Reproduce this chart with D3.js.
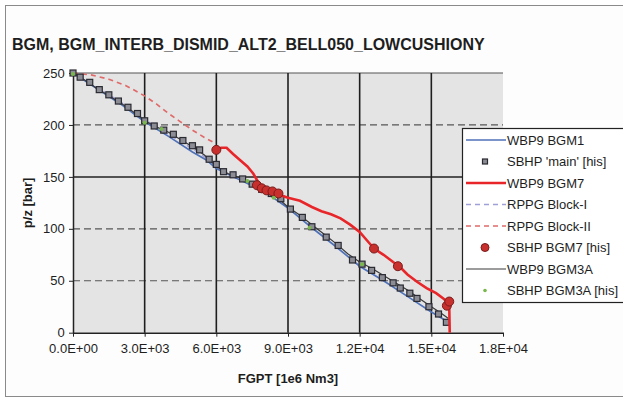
<!DOCTYPE html>
<html>
<head>
<meta charset="utf-8">
<script src="https://cdn.jsdelivr.net/npm/d3@7"></script>
<style>
  body { margin: 0; background: #fff; }
  svg { display: block; font-family: Arial, "Liberation Sans", sans-serif; }
</style>
</head>
<body>
<div id="chart"></div>
<script>
const WIDTH = 623;
const HEIGHT = 398;

const title = 'BGM, BGM_INTERB_DISMID_ALT2_BELL050_LOWCUSHIONY';
const xTitle = 'FGPT [1e6 Nm3]';
const yTitle = 'p/z [bar]';
const xTicks = [0, 3000, 6000, 9000, 12000, 15000, 18000];
const yTicks = [0, 50, 100, 150, 200, 250];

// [FGPT, p/z]
const wbp9Bgm1 = [[0,250],[1000,235],[2000,220],[3000,203],[4000,189],[5000,174],[5600,166],[6000,158],[7000,147],[8000,136],[9000,120],[10000,101],[11000,83],[12000,64],[13000,50],[14000,35],[15000,20],[15650,11]];
const wbp9Bgm3a = [[0,250],[500,243],[1000,235],[1500,228],[2000,221],[2500,213],[3000,204],[3500,198],[4000,193],[4500,186],[5000,179],[5500,171],[6000,160],[6500,153],[7000,149],[7500,143],[8000,137],[8500,131],[9000,121],[9500,113],[10000,104],[10500,95],[11000,86],[11500,76],[12000,68],[12500,62],[13000,55],[13500,48],[14000,41],[14500,33],[15000,25],[15400,19],[15700,14]];
const wbp9Bgm7 = [[6000,176],[6200,178],[6430,178],[6700,172],[7000,166],[7300,160],[7550,153],[7800,143],[8000,139],[8300,136],[8600,133],[9000,130],[9500,127],[10000,121],[10400,117],[10800,114],[11200,110],[11600,104],[12000,97],[12300,89],[12600,81],[13000,75],[13400,68],[13700,63],[14000,56],[14400,49],[14800,43],[15200,38],[15500,33],[15700,29],[15750,25],[15770,0]];
const rppgBlock1 = [[0,250],[1000,236],[2000,222],[3000,205],[4000,191],[5000,177],[6000,162]];
const rppgBlock2 = [[0,250],[800,248],[1500,244],[2200,238],[3000,228],[3500,220],[4000,211],[4500,203],[5000,195],[5500,188],[5900,183]];
const sbhpMain = [[0,250],[300,246],[700,241],[1100,234],[1500,229],[1900,223],[2300,217],[2700,211],[3000,204],[3400,199],[3800,195],[4200,191],[4600,185],[5000,180],[5300,176],[5700,167],[6000,162],[6300,155],[6700,152],[7100,148],[7500,143],[7900,138],[8300,134],[8700,129],[9100,119],[9600,111],[10000,102],[10600,92],[11100,84],[11700,70],[12100,66],[12500,60],[12950,53],[13400,48],[13700,43],[14100,38],[14400,33],[14900,25],[15300,18],[15630,10]];
const sbhpBgm7 = [[6000,176],[7700,142],[7900,139],[8100,137],[8350,136],[8600,134],[12600,81],[13600,64],[15650,26],[15750,30]];
const sbhpBgm3a = [[0,249],[3000,202],[3700,196],[7300,146],[8400,130],[9900,101],[12100,66]];

const svg = d3.select('#chart')
  .append('svg')
    .attr('width', WIDTH)
    .attr('height', HEIGHT);

// outer chart border
svg.append('rect')
  .attr('x', 5.5).attr('y', 5.5)
  .attr('width', 700).attr('height', 391)
  .attr('fill', '#fdfdfd')
  .attr('stroke', '#8a8a8a');

svg.append('text')
  .attr('x', 12).attr('y', 50)
  .attr('font-size', 16).attr('font-weight', 'bold')
  .attr('fill', '#1e1e1e')
  .text(title);

const x = d3.scaleLinear().domain([0, 18000]).range([73, 503]);
const y = d3.scaleLinear().domain([0, 250]).range([332.7, 73]);

// plot area
svg.append('rect')
  .attr('x', x(0)).attr('y', y(250))
  .attr('width', x(18000) - x(0)).attr('height', y(0) - y(250))
  .attr('fill', '#e4e4e4');

// horizontal grid
svg.append('g')
  .selectAll('line')
  .data(yTicks.filter(d => d > 0))
  .enter()
    .append('line')
    .attr('x1', x(0)).attr('x2', x(18000))
    .attr('y1', d => y(d)).attr('y2', d => y(d))
    .attr('stroke', d => d === 150 ? '#222' : '#555')
    .attr('stroke-width', d => d === 150 ? 1.5 : 1.2)
    .attr('stroke-dasharray', d => (d === 150 || d === 250) ? null : '7,4');

// vertical grid
svg.append('g')
  .selectAll('line')
  .data(xTicks.filter(d => d > 0 && d < 18000))
  .enter()
    .append('line')
    .attr('x1', d => x(d)).attr('x2', d => x(d))
    .attr('y1', y(250)).attr('y2', y(0))
    .attr('stroke', '#1e1e1e')
    .attr('stroke-width', 1.6);

const fmt = v => {
  if (v === 0) return '0.0E+00';
  const e = Math.floor(Math.log10(v));
  return (v / Math.pow(10, e)).toFixed(1) + 'E+' + String(e).padStart(2, '0');
};

const xAxis = d3.axisBottom(x).tickValues(xTicks).tickFormat(fmt).tickSize(4).tickSizeOuter(0);
const gx = svg.append('g')
  .attr('transform', `translate(0, ${y(0)})`)
  .call(xAxis);

const yAxis = d3.axisLeft(y).tickValues(yTicks).tickSize(4).tickSizeOuter(0);
const gy = svg.append('g')
  .attr('transform', `translate(${x(0)}, 0)`)
  .call(yAxis);

[gx, gy].forEach(g => {
  g.select('.domain').attr('stroke', '#222').attr('stroke-width', 1.5);
  g.selectAll('.tick line').attr('stroke', '#222');
  g.selectAll('.tick text')
    .attr('font-size', 13)
    .attr('font-family', 'Arial, "Liberation Sans", sans-serif')
    .attr('fill', '#1e1e1e');
});
gx.selectAll('.tick text').attr('dy', '1.05em');
gy.selectAll('.tick text').attr('dx', '-0.1em');

svg.append('text')
  .attr('x', (x(0) + x(18000)) / 2).attr('y', 383)
  .attr('text-anchor', 'middle')
  .attr('font-size', 13).attr('font-weight', 'bold').attr('fill', '#1e1e1e')
  .text(xTitle);

svg.append('text')
  .attr('transform', `translate(32, ${(y(0) + y(250)) / 2}) rotate(-90)`)
  .attr('text-anchor', 'middle')
  .attr('font-size', 13).attr('font-weight', 'bold').attr('fill', '#1e1e1e')
  .text(yTitle);

const line = d3.line().x(d => x(d[0])).y(d => y(d[1]));

const plot = svg.append('g');

plot.append('path').datum(rppgBlock2)
  .attr('d', line).attr('fill', 'none')
  .attr('stroke', '#e06a6a').attr('stroke-width', 1.7).attr('stroke-dasharray', '5,4');

plot.append('path').datum(rppgBlock1)
  .attr('d', line).attr('fill', 'none')
  .attr('stroke', '#a0a0d8').attr('stroke-width', 1.5).attr('stroke-dasharray', '5,4');

plot.append('path').datum(wbp9Bgm1)
  .attr('d', line).attr('fill', 'none')
  .attr('stroke', '#4f72b8').attr('stroke-width', 1.7);

plot.append('path').datum(wbp9Bgm3a)
  .attr('d', line).attr('fill', 'none')
  .attr('stroke', '#3a3a3a').attr('stroke-width', 1.2);

plot.selectAll('.sbhp-main')
  .data(sbhpMain)
  .enter()
    .append('rect')
    .attr('class', 'sbhp-main')
    .attr('x', d => x(d[0]) - 3).attr('y', d => y(d[1]) - 3)
    .attr('width', 6).attr('height', 6)
    .attr('fill', '#8c8c94').attr('stroke', '#2a2a33').attr('stroke-width', 1.2);

plot.append('path').datum(wbp9Bgm7)
  .attr('d', line).attr('fill', 'none')
  .attr('stroke', '#e8262a').attr('stroke-width', 2.6);

plot.selectAll('.sbhp-bgm7')
  .data(sbhpBgm7)
  .enter()
    .append('circle')
    .attr('class', 'sbhp-bgm7')
    .attr('cx', d => x(d[0])).attr('cy', d => y(d[1]))
    .attr('r', 4.5)
    .attr('fill', '#c8302e').attr('stroke', '#7a1c1c').attr('stroke-width', 1);

plot.selectAll('.sbhp-bgm3a')
  .data(sbhpBgm3a)
  .enter()
    .append('circle')
    .attr('class', 'sbhp-bgm3a')
    .attr('cx', d => x(d[0])).attr('cy', d => y(d[1]))
    .attr('r', 2)
    .attr('fill', '#79b84a');

// legend
const legendItems = [
  { name: 'WBP9 BGM1', type: 'line', color: '#4f72b8', width: 1.7 },
  { name: "SBHP 'main' [his]", type: 'square' },
  { name: 'WBP9 BGM7', type: 'line', color: '#e8262a', width: 2.6 },
  { name: 'RPPG Block-I', type: 'line', color: '#a0a0d8', width: 1.5, dash: '5,4' },
  { name: 'RPPG Block-II', type: 'line', color: '#e06a6a', width: 1.7, dash: '5,4' },
  { name: 'SBHP BGM7 [his]', type: 'circle' },
  { name: 'WBP9 BGM3A', type: 'line', color: '#3a3a3a', width: 1.2 },
  { name: 'SBHP BGM3A [his]', type: 'dot' }
];

const legend = svg.append('g');
legend.append('rect')
  .attr('x', 462.5).attr('y', 128.5)
  .attr('width', 200).attr('height', 174)
  .attr('fill', '#fff').attr('stroke', '#222').attr('stroke-width', 1.2);

const rows = legend.selectAll('.row')
  .data(legendItems)
  .enter()
    .append('g')
    .attr('class', 'row')
    .attr('transform', (d, i) => `translate(0, ${140 + i * 21.5})`);

rows.filter(d => d.type === 'line')
  .append('line')
  .attr('x1', 466).attr('x2', 506)
  .attr('stroke', d => d.color)
  .attr('stroke-width', d => d.width)
  .attr('stroke-dasharray', d => d.dash || null);

rows.filter(d => d.type === 'square')
  .append('rect')
  .attr('x', 482.5).attr('y', -2.5).attr('width', 5).attr('height', 5)
  .attr('fill', '#8c8c94').attr('stroke', '#2a2a33').attr('stroke-width', 1.2);

rows.filter(d => d.type === 'circle')
  .append('circle')
  .attr('cx', 485).attr('r', 4)
  .attr('fill', '#c8302e').attr('stroke', '#7a1c1c');

rows.filter(d => d.type === 'dot')
  .append('circle')
  .attr('cx', 485).attr('r', 1.8)
  .attr('fill', '#79b84a');

rows.append('text')
  .attr('x', 507).attr('dy', '0.35em')
  .attr('font-size', 13).attr('fill', '#1e1e1e')
  .text(d => d.name);
</script>
</body>
</html>
